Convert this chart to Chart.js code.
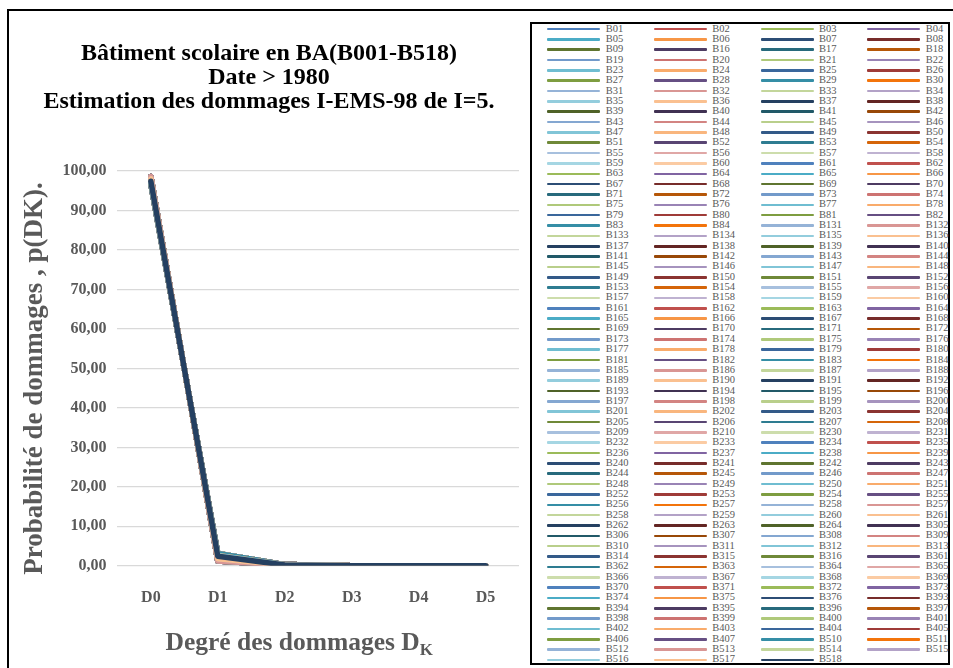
<!DOCTYPE html>
<html>
<head>
<meta charset="utf-8">
<script src="https://cdn.jsdelivr.net/npm/chart.js@4.4.1/dist/chart.umd.min.js"></script>
<style>
  html, body { margin: 0; padding: 0; background: #fff; }
  body { width: 953px; height: 668px; position: relative; overflow: hidden; font-family: "Liberation Serif", serif; }
  #frame { position: absolute; left: 7px; top: 9px; width: 980px; height: 700px; border-left: 2px solid #000; border-top: 2px solid #000; }
  #chartBox { position: absolute; left: 8px; top: 10px; width: 520px; height: 658px; }
  #legendBox { position: absolute; left: 530px; top: 22px; width: 416px; height: 639px; border: 2px solid #000; background: #fff; }
  .lg-line { position: absolute; height: 2.6px; width: 53px; border-radius: 1px; }
  .lg-text { position: absolute; font-size: 10.5px; line-height: 12px; height: 12px; color: #595959; white-space: nowrap; }
</style>
</head>
<body>
<div id="frame"></div>
<div id="chartBox"><canvas id="chart"></canvas></div>
<div id="legendBox"></div>
<script>
// degrés de dommages
const categories = ['D0', 'D1', 'D2', 'D3', 'D4', 'D5'];

// formes de courbes (p(DK) en %)
const curveProfiles = [
  [98.6, 1.2, 0.2, 0, 0, 0],
  [98.3, 1.5, 0.2, 0, 0, 0],
  [98.0, 1.8, 0.2, 0, 0, 0],
  [97.4, 2.4, 0.2, 0, 0, 0],
  [97.1, 2.6, 0.3, 0, 0, 0],
  [96.8, 2.9, 0.3, 0, 0, 0],
  [96.6, 3.1, 0.3, 0, 0, 0]
];

const seriesNames = [
  'B01','B02','B03','B04','B05','B06','B07','B08','B09','B16','B17','B18',
  'B19','B20','B21','B22','B23','B24','B25','B26','B27','B28','B29','B30',
  'B31','B32','B33','B34','B35','B36','B37','B38','B39','B40','B41','B42',
  'B43','B44','B45','B46','B47','B48','B49','B50','B51','B52','B53','B54',
  'B55','B56','B57','B58','B59','B60','B61','B62','B63','B64','B65','B66',
  'B67','B68','B69','B70','B71','B72','B73','B74','B75','B76','B77','B78',
  'B79','B80','B81','B82','B83','B84','B131','B132','B133','B134','B135','B136',
  'B137','B138','B139','B140','B141','B142','B143','B144','B145','B146','B147','B148',
  'B149','B150','B151','B152','B153','B154','B155','B156','B157','B158','B159','B160',
  'B161','B162','B163','B164','B165','B166','B167','B168','B169','B170','B171','B172',
  'B173','B174','B175','B176','B177','B178','B179','B180','B181','B182','B183','B184',
  'B185','B186','B187','B188','B189','B190','B191','B192','B193','B194','B195','B196',
  'B197','B198','B199','B200','B201','B202','B203','B204','B205','B206','B207','B208',
  'B209','B210','B230','B231','B232','B233','B234','B235','B236','B237','B238','B239',
  'B240','B241','B242','B243','B244','B245','B246','B247','B248','B249','B250','B251',
  'B252','B253','B254','B255','B256','B257','B258','B257','B258','B259','B260','B261',
  'B262','B263','B264','B305','B306','B307','B308','B309','B310','B311','B312','B313',
  'B314','B315','B316','B361','B362','B363','B364','B365','B366','B367','B368','B369',
  'B370','B371','B372','B373','B374','B375','B376','B393','B394','B395','B396','B397',
  'B398','B399','B400','B401','B402','B403','B404','B405','B406','B407','B510','B511',
  'B512','B513','B514','B515','B516','B517','B518'
];

// profil (index dans curveProfiles) de chaque bâtiment
const seriesProfile = [
  2,0,4,3, 5,1,3,2, 4,2,1,6, 3,5,2,0, 6,3,4,1, 2,4,0,3, 1,3,5,2, 4,0,3,5,
  2,6,1,4, 3,1,4,2, 5,2,0,3, 1,4,3,6, 3,0,2,4, 6,2,5,1, 2,3,1,4, 4,1,3,0,
  3,5,2,4, 1,3,6,2, 4,0,2,3, 2,4,5,1, 3,2,0,4, 5,3,1,2, 2,1,4,3, 4,6,2,0,
  3,2,5,1, 1,4,3,2, 6,0,2,4, 2,3,1,5, 4,1,3,2, 3,5,0,4, 2,3,4,1, 5,2,1,3,
  3,4,2,6, 1,0,3,2, 4,2,5,3, 2,3,1,4, 3,1,4,0, 6,2,3,5, 2,4,1,3, 4,3,2,1,
  1,5,3,2, 3,2,0,4, 2,4,6,3, 5,1,2,4, 3,0,4,2, 1,3,2,5, 4,2,3,1, 2,6,1,3,
  3,4,2,0, 5,1,3,2, 2,3,4,1, 4,0,2,3, 1,5,3,6, 3,2,1,4, 2,4,0,3, 4,1,5,2,
  3,2,3,1, 0,4,2,5, 3,1,4,2, 2,3,6,4, 1,0,3,2, 4,2,3
];

const titleLines = ['Bâtiment scolaire en BA(B001-B518)', 'Date > 1980', 'Estimation des dommages I-EMS-98 de I=5.'];
const yTitle = 'Probabilité de dommages , p(DK).';
const xTitleMain = 'Degré des dommages D';
const xTitleSub = 'K';

// palette Office 2007 + variantes de luminosité (comme Excel)
const basePalette = ['#4F81BD', '#C0504D', '#9BBB59', '#8064A2', '#4BACC6', '#F79646'];
const lumVariants = [[1, 0], [0.6, 0], [0.8, 0.2], [0.8, 0], [0.6, 0.4], [0.5, 0], [0.7, 0.3], [0.7, 0], [0.5, 0.5]];

function hexToHsl(hex) {
  const r = parseInt(hex.slice(1, 3), 16) / 255, g = parseInt(hex.slice(3, 5), 16) / 255, b = parseInt(hex.slice(5, 7), 16) / 255;
  const max = Math.max(r, g, b), min = Math.min(r, g, b);
  let h = 0, s = 0;
  const l = (max + min) / 2;
  if (max !== min) {
    const d = max - min;
    s = l > 0.5 ? d / (2 - max - min) : d / (max + min);
    if (max === r) h = (g - b) / d + (g < b ? 6 : 0);
    else if (max === g) h = (b - r) / d + 2;
    else h = (r - g) / d + 4;
    h /= 6;
  }
  return [h, s, l];
}
function hslToRgb(h, s, l) {
  if (s === 0) { const v = Math.round(l * 255); return `rgb(${v},${v},${v})`; }
  const hue = (p, q, t) => {
    if (t < 0) t += 1; if (t > 1) t -= 1;
    if (t < 1 / 6) return p + (q - p) * 6 * t;
    if (t < 1 / 2) return q;
    if (t < 2 / 3) return p + (q - p) * (2 / 3 - t) * 6;
    return p;
  };
  const q = l < 0.5 ? l * (1 + s) : l + s - l * s, p = 2 * l - q;
  return `rgb(${Math.round(hue(p, q, h + 1 / 3) * 255)},${Math.round(hue(p, q, h) * 255)},${Math.round(hue(p, q, h - 1 / 3) * 255)})`;
}
function seriesColor(i) {
  const base = basePalette[i % 6];
  const v = lumVariants[Math.floor((i % 54) / 6)];
  const [h, s, l] = hexToHsl(base);
  return hslToRgb(h, s, Math.min(1, l * v[0] + v[1]));
}

const n = seriesNames.length;
const datasets = seriesNames.map((name, i) => ({
  label: name,
  data: curveProfiles[seriesProfile[i]].slice(),
  borderColor: seriesColor(i),
  backgroundColor: seriesColor(i),
  borderWidth: 5.5,
  pointRadius: 0,
  tension: 0,
  fill: false,
  borderCapStyle: 'round',
  borderJoinStyle: 'round',
  order: n - i   // la dernière série par-dessus, comme Excel
}));

// titre de l'axe X avec l'indice K
const xTitlePlugin = {
  id: 'xTitleSub',
  afterDraw(chart) {
    const { ctx, chartArea } = chart;
    ctx.save();
    ctx.fillStyle = '#595959';
    ctx.textBaseline = 'alphabetic';
    ctx.font = 'bold 25.5px "Liberation Serif"';
    const w1 = ctx.measureText(xTitleMain).width;
    ctx.font = 'bold 17px "Liberation Serif"';
    const w2 = ctx.measureText(xTitleSub).width;
    const cx = (chartArea.left + chartArea.right) / 2 - 19;
    const x0 = cx - (w1 + w2) / 2;
    const y = chartArea.bottom + 84;
    ctx.font = 'bold 25.5px "Liberation Serif"';
    ctx.textAlign = 'left';
    ctx.fillText(xTitleMain, x0, y);
    ctx.font = 'bold 17px "Liberation Serif"';
    ctx.fillText(xTitleSub, x0 + w1, y + 5);
    ctx.restore();
  }
};

new Chart(document.getElementById('chart'), {
  type: 'line',
  data: { labels: categories, datasets: datasets },
  options: {
    responsive: true,
    maintainAspectRatio: false,
    animation: false,
    layout: { padding: { left: 11, right: 9, top: 0, bottom: 39 } },
    plugins: {
      legend: { display: false },
      tooltip: { enabled: false },
      title: {
        display: true,
        text: titleLines,
        color: '#000',
        font: { family: '"Liberation Serif"', size: 24, weight: 'bold', lineHeight: 1.0 },
        padding: { top: 32, bottom: 57 }
      }
    },
    scales: {
      x: {
        offset: true,
        grid: { display: false, drawTicks: false },
        border: { display: false },
        ticks: { color: '#595959', font: { family: '"Liberation Serif"', size: 16, weight: 'bold' }, padding: 22 }
      },
      y: {
        min: 0,
        max: 100,
        grid: { color: '#d9d9d9', lineWidth: 1.3, drawTicks: false },
        border: { display: false },
        ticks: {
          stepSize: 10,
          color: '#595959',
          padding: 11,
          font: { family: '"Liberation Serif"', size: 16, weight: 'bold' },
          callback: v => v.toFixed(2).replace('.', ',')
        },
        title: {
          display: true,
          text: yTitle + '   ',
          color: '#595959',
          font: { family: '"Liberation Serif"', size: 27, weight: 'bold' },
          padding: { top: 0, bottom: 0 }
        }
      }
    }
  },
  plugins: [xTitlePlugin]
});

// légende en 4 colonnes
const legendBox = document.getElementById('legendBox');
const colPitch = 106.67, rowPitch = 10.344;
seriesNames.forEach((name, i) => {
  const row = Math.floor(i / 4), col = i % 4;
  const x = 15.3 + col * colPitch;
  const y = 5 + row * rowPitch;
  const line = document.createElement('div');
  line.className = 'lg-line';
  line.style.left = x + 'px';
  line.style.top = (y - 1.3) + 'px';
  line.style.background = seriesColor(i);
  legendBox.appendChild(line);
  const txt = document.createElement('div');
  txt.className = 'lg-text';
  txt.style.left = (x + 58.4) + 'px';
  txt.style.top = (y - 6.5) + 'px';
  txt.textContent = name;
  legendBox.appendChild(txt);
});
</script>
</body>
</html>
